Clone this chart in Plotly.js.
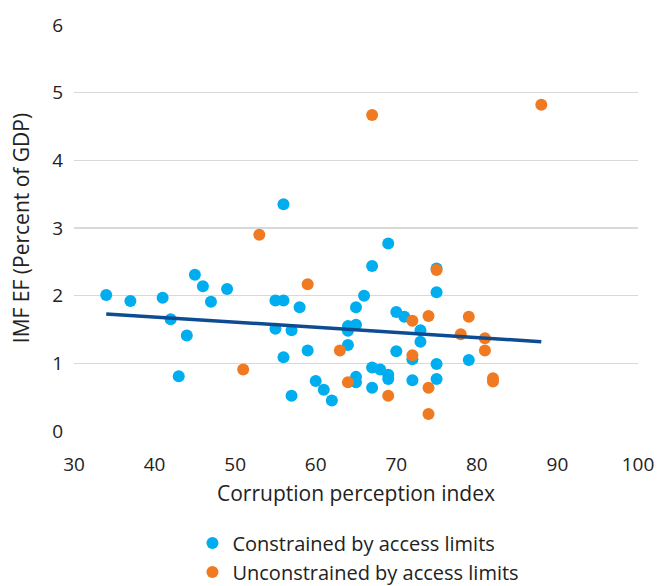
<!DOCTYPE html>
<html>
<head>
<meta charset="utf-8">
<script src="https://cdn.plot.ly/plotly-3.0.1.min.js"></script>
<style>html,body{margin:0;padding:0;background:#fff;}#chart{width:662px;height:586px;}</style>
</head>
<body>
<div id="chart"></div>
<script>
// Constrained by access limits (blue)
const constrainedX = [34,37,41,42,43,44,45,46,47,49,55,56,56,58,55,57,56,59,60,61,62,57,66,65,64,65,64,64,67,69,70,71,73,73,70,72,67,68,69,69,65,65,72,67,75,75,75,75,79];
const constrainedY = [2.01,1.92,1.97,1.65,0.81,1.41,2.31,2.14,1.91,2.10,1.93,1.93,3.35,1.83,1.51,1.49,1.09,1.19,0.74,0.61,0.45,0.52,2.00,1.83,1.55,1.57,1.48,1.27,2.44,2.77,1.76,1.69,1.49,1.32,1.18,1.06,0.94,0.91,0.83,0.77,0.80,0.72,0.75,0.64,2.40,2.05,0.99,0.77,1.05];
// Unconstrained by access limits (orange)
const unconstrainedX = [51,53,59,63,64,67,69,72,72,74,74,74,75,78,79,81,81,82,82,88];
const unconstrainedY = [0.91,2.90,2.17,1.19,0.72,4.67,0.52,1.63,1.12,1.70,0.64,0.25,2.38,1.43,1.69,1.37,1.19,0.78,0.73,4.82];
// Linear trend line (end points)
const trendX = [34,88];
const trendY = [1.73,1.32];

const xTicks = [30,40,50,60,70,80,90,100];
const yTicks = [0,1,2,3,4,5,6];

const font = "'Open Sans', sans-serif";
const tickSize = 19;
const textSize = 21;
const legendSize = 20;

const data = [
  {x: constrainedX, y: constrainedY, type:'scatter', mode:'markers', name:'Constrained by access limits',
   marker:{color:'#00AEEF', size:12}},
  {x: unconstrainedX, y: unconstrainedY, type:'scatter', mode:'markers', name:'Unconstrained by access limits',
   marker:{color:'#F07A22', size:12}},
  {x: trendX, y: trendY, type:'scatter', mode:'lines', showlegend:false,
   line:{color:'#0D4C92', width:3.5}}
];

const layout = {
  width:662, height:586,
  margin:{l:74, r:24, t:25, b:155, autoexpand:false},
  paper_bgcolor:'#fff', plot_bgcolor:'#fff',
  font:{family:font, size:tickSize, color:'#222'},
  showlegend:true,
  legend:{x:0.21, y:-0.228, xanchor:'left', yanchor:'top', orientation:'v',
          font:{family:font, size:legendSize, color:'#222'}, itemwidth:30, tracegroupgap:0},
  xaxis:{range:[30,100], tickvals:xTicks, showgrid:false, zeroline:false, showline:false,
         ticks:'', ticklabelstandoff:20, automargin:false, tickfont:{size:tickSize},
         title:{text:'Corruption perception index', font:{family:font, size:textSize, color:'#222'}, standoff:10}},
  yaxis:{range:[0,6], tickvals:yTicks, showgrid:true, gridcolor:'#d9d9d9', gridwidth:1.5,
         zeroline:false, showline:false, ticks:'', ticklabelstandoff:10, automargin:false, tickfont:{size:tickSize},
         title:{text:'IMF EF (Percent of GDP)', font:{family:font, size:textSize, color:'#222'}, standoff:16}}
};

Plotly.newPlot('chart', data, layout, {displayModeBar:false, staticPlot:true});
</script>
</body>
</html>
